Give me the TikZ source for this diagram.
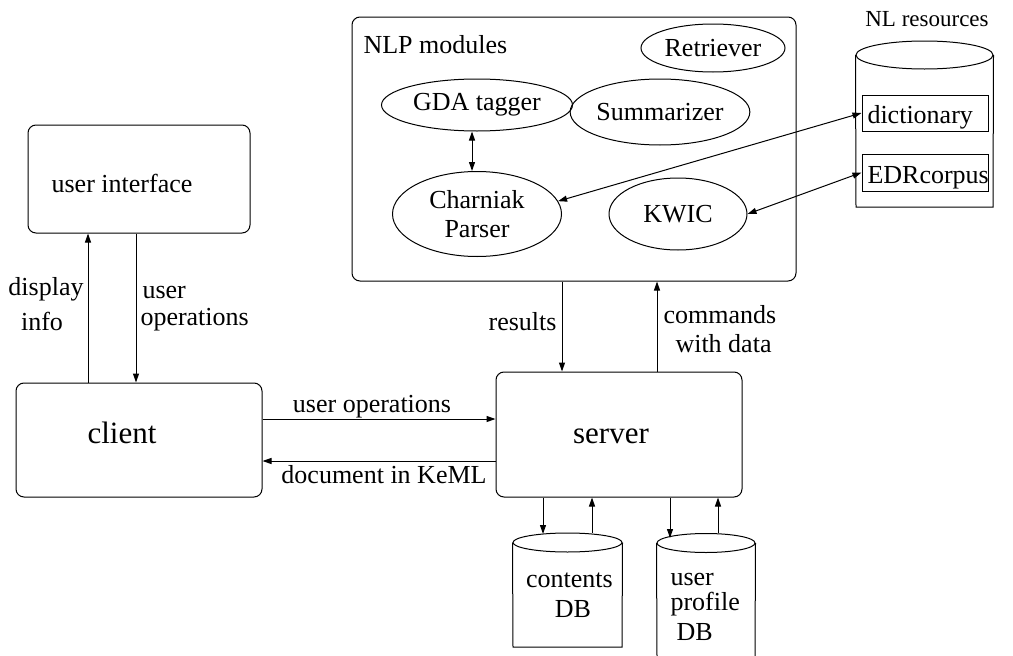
\documentclass[tikz,border=0pt]{standalone}
\usepackage{fontspec}
\setmainfont{Liberation Serif}
\usetikzlibrary{arrows.meta,shapes.geometric,calc}
\begin{document}
\begin{tikzpicture}[x=1pt,y=-1pt,
  line width=1pt,
  >={Triangle[length=9pt,width=6pt]},
  every node/.style={font=\fontsize{26}{29}\selectfont, inner sep=0pt},
  box/.style={draw, rounded corners=8pt, fill=none},
  mod/.style={draw, ellipse, align=center},
  plain/.style={draw, rectangle},
  big/.style={font=\fontsize{31}{34}\selectfont},
  small/.style={font=\fontsize{23}{26}\selectfont}]
\useasboundingbox (0,0) rectangle (1013,656);

% main boxes
\node[box, minimum width=444pt, minimum height=264pt] (nlp) at (574,149) {};
\node[box, minimum width=222pt, minimum height=108pt] (ui) at (139,179) {};
\node[box, minimum width=246pt, minimum height=114pt] (client) at (139,440) {};
\node[box, minimum width=246pt, minimum height=125pt] (server) at (619,434.5) {};

\node[anchor=base west] (nlpt) at (363,53) {NLP modules};
\node[anchor=base] (uit) at (122,192) {user interface};
\node[big, anchor=base] (clientt) at (122,443) {client};
\node[big, anchor=base] (servert) at (611,443) {server};

% NLP modules
\node[mod, minimum width=144pt, minimum height=48pt] (retr) at (713,48) {Retriever};
\node[mod, minimum width=191pt, minimum height=52pt] (gda) at (477,105) {GDA tagger};
\node[mod, minimum width=163pt, minimum height=66pt] (summ) at (660,112) {Summarizer};
\node[mod, minimum width=169pt, minimum height=85pt] (charn) at (477,214) {Charniak\\Parser};
\node[mod, minimum width=138pt, minimum height=72pt] (kwic) at (678,214) {KWIC};

% NL resources cylinder
\node[small, anchor=base] (nlrt) at (927,26) {NL resources};
\node[draw, ellipse, minimum width=137pt, minimum height=28pt] (nltop) at (924.5,55) {};
\draw (nltop.west) -- (856,207) -- (993,207) -- (nltop.east);
\node[plain, minimum width=126pt, minimum height=36pt] (dict) at (925,113) {};
\node[plain, minimum width=126pt, minimum height=37pt] (edr) at (925,172.5) {};
\node[anchor=base west] (dictt) at (867,123) {dictionary};
\node[anchor=base west] (edrt) at (867,183) {EDRcorpus};

% databases
\node[draw, ellipse, minimum width=109pt, minimum height=19pt] (cdbtop) at (567.5,542.5) {};
\draw (cdbtop.west) -- (513,647) -- (622,647) -- (cdbtop.east);
\node[draw, ellipse, minimum width=98pt, minimum height=19pt] (udbtop) at (706,543) {};
\draw (udbtop.west) -- (657,656);
\draw (udbtop.east) -- (755,656);
\node[anchor=base] (cdbt1) at (569.5,587) {contents};
\node[anchor=base] (cdbt2) at (573,617) {DB};
\node[anchor=base west] (udbt1) at (670,585) {user};
\node[anchor=base west] (udbt2) at (670,610) {profile};
\node[anchor=base west] (udbt3) at (676,640) {DB};
\coordinate (cin) at (543,534);
\coordinate (uin) at (670,538);

% connectors inside NLP / resources
\draw[<->] ($(gda.south)+(-5,0)$) -- ($(charn.north)+(-5,0)$);
\draw[<->] (dict.west) -- (charn.9);
\draw[<->] (edr.west) -- (kwic.east);

% ui <-> client
\coordinate (xa) at (88,0);
\coordinate (xb) at (136,0);
\draw[->] (client.north -| xa) -- (ui.south -| xa);
\draw[->] (ui.south -| xb) -- (client.north -| xb);
\node[anchor=base] (disp1) at (46,295) {display};
\node[anchor=base] (disp2) at (42,330) {info};
\node[anchor=base west] (uo1) at (142,298) {user};
\node[anchor=base west] (uo2) at (140,325) {operations};

% client <-> server
\coordinate (ya) at (0,419);
\coordinate (yb) at (0,461);
\draw[->] (client.east |- ya) -- (server.west |- ya);
\draw[->] (server.west |- yb) -- (client.east |- yb);
\node[anchor=base] (uo3) at (372,412) {user operations};
\node[anchor=base] (doc) at (384,483) {document in KeML};

% server <-> nlp
\coordinate (xc) at (562,0);
\coordinate (xd) at (657,0);
\draw[->] (nlp.south -| xc) -- (server.north -| xc);
\draw[->] (server.north -| xd) -- (nlp.south -| xd);
\node[anchor=base east] (res) at (557,330) {results};
\node[anchor=base west] (cmd1) at (663,323) {commands};
\node[anchor=base west] (cmd2) at (675,352) {with data};

% server <-> DBs
\coordinate (xf) at (592,0);
\coordinate (xh) at (718,0);
\draw[->] (server.south -| cin) -- (cin);
\draw[->] (cdbtop.north -| xf) -- (server.south -| xf);
\draw[->] (server.south -| uin) -- (uin);
\draw[->] (udbtop.north -| xh) -- (server.south -| xh);
\end{tikzpicture}
\end{document}
